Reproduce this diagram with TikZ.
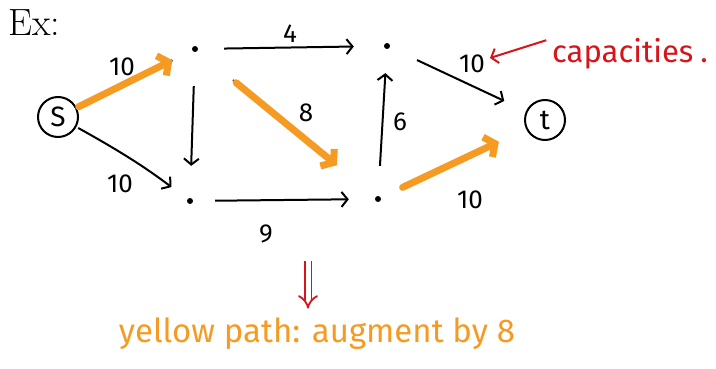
\documentclass[tikz,border=0pt]{standalone}
\usepackage{fontspec}
\newfontfamily\hand{Fira Sans}
\usetikzlibrary{arrows.meta,positioning}
\definecolor{hiorange}{HTML}{F59B23}
\definecolor{notered}{HTML}{D7141A}

\begin{document}
\begin{tikzpicture}[x=1pt, y=-1pt,
  vtx/.style={circle, draw, line width=2pt, minimum size=40pt, inner sep=0pt,
              font=\hand\fontsize{28}{28}\selectfont},
  dot/.style={circle, fill, inner sep=0pt, minimum size=6pt},
  flow/.style={line width=2pt, -{Straight Barb[length=6pt, width=15pt, line width=2pt]}},
  plain/.style={line width=2pt},
  aug/.style={line width=7pt, hiorange, line cap=round,
              -{Straight Barb[length=8pt, width=22pt, line width=7pt]}},
  caplbl/.style={font=\hand\fontsize{26}{26}\selectfont},
]
\useasboundingbox (0,0) rectangle (716,369);

\node[anchor=base west, inner sep=0pt, font=\fontsize{38}{42}\selectfont] (title) at (8,36) {Ex:};

% vertices
\node[vtx] (s) at (58,117) {S};
\node[vtx] (t) at (545,120) {t};
\node[dot] (a) at (195,49) {};
\node[dot] (b) at (190,201) {};
\node[dot] (c) at (387,46) {};
\node[dot] (d) at (378,199) {};

% capacities
\draw[plain, shorten >=22pt] (s) -- (a);
\draw[aug, shorten <=2pt, shorten >=22pt] (s) -- (a);
\draw[flow, shorten <=2pt, shorten >=20pt] (s) to[bend left=4] (b);
\draw[flow, shorten <=34pt, shorten >=32pt] (a) -- (b);
\draw[flow, shorten <=26pt, shorten >=30pt] (a) -- (c);
\draw[plain, shorten <=46pt, shorten >=58pt] (a) -- (d);
\draw[aug, shorten <=50pt, shorten >=50pt] (a) -- (d);
\draw[flow, shorten <=22pt, shorten >=26pt] (b) -- (d);
\draw[flow, shorten <=30pt, shorten >=24pt] (d) -- (c);
\draw[flow, shorten <=30pt, shorten >=24pt] (c) -- (t);
\draw[aug, shorten <=24pt, shorten >=30pt] (d) -- (t);

\node[caplbl] (l-sa) at (122,67) {10};
\node[caplbl] (l-sb) at (120,184) {10};
\node[caplbl] (l-ac) at (290,34) {4};
\node[caplbl] (l-ad) at (306,113) {8};
\node[caplbl] (l-bd) at (266,234) {9};
\node[caplbl] (l-dc) at (400,122) {6};
\node[caplbl] (l-ct) at (472,64) {10};
\node[caplbl] (l-dt) at (470,200) {10};

% notes
\node[anchor=west, inner sep=0pt, text=notered, font=\hand\fontsize{31}{31}\selectfont]
  (capnote) at (552,54) {capacities\hspace{7pt}.};
\coordinate (capend) at (490,58);
\draw[notered, line width=2pt, -{Straight Barb[length=6pt, width=15pt, line width=2pt]},
  shorten <=6pt] (capnote.north west) -- (capend);

\node[text=hiorange, font=\hand\fontsize{33}{33}\selectfont] (augnote) at (317,334)
  {yellow path: augment by 8};
\coordinate (arrtop) at (308,261);
\draw[notered, double, double distance=5pt, line width=1.8pt, -{Implies[scale=1.3]},
  shorten >=6pt] (arrtop) -- (arrtop |- augnote.north);
\end{tikzpicture}
\end{document}
